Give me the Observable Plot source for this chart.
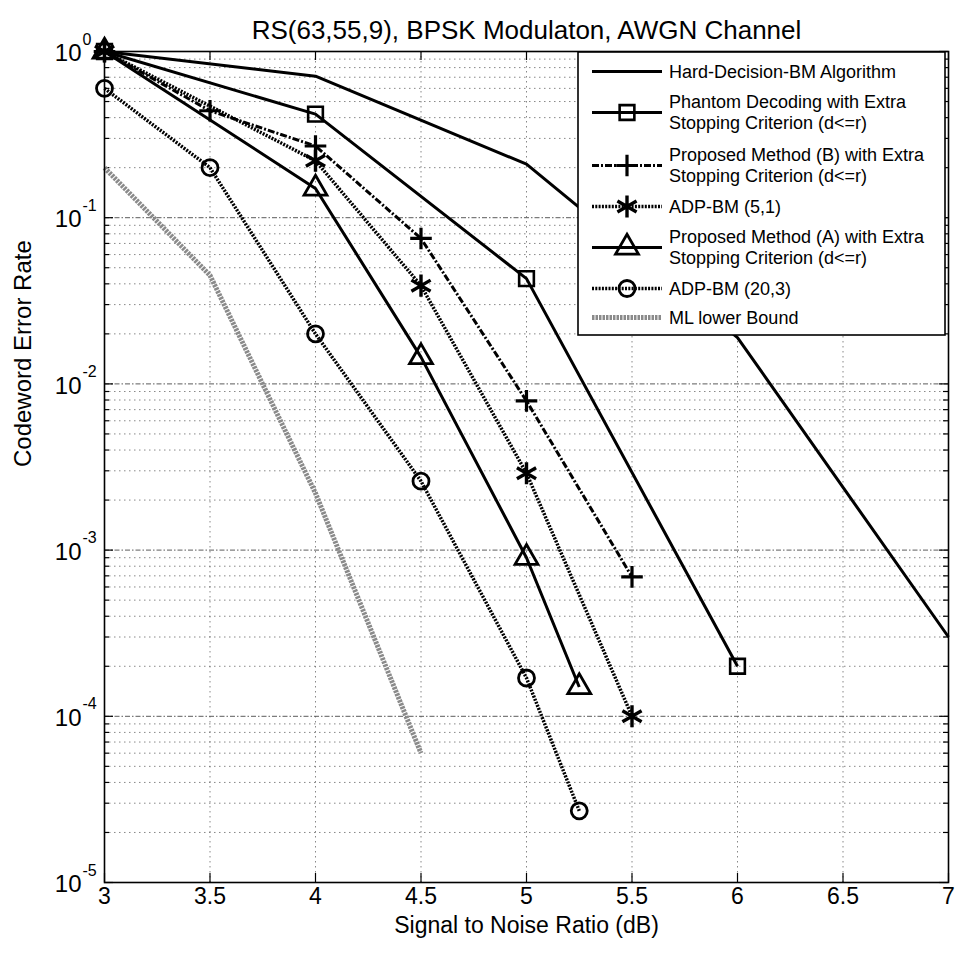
<!DOCTYPE html>
<html><head><meta charset="utf-8">
<script src="https://cdn.jsdelivr.net/npm/d3@7"></script>
<script src="https://cdn.jsdelivr.net/npm/@observablehq/plot@0.6"></script>
<style>
body{margin:0;background:#fff;}
#chart{width:959px;height:956px;}
</style></head><body><div id="chart"></div>
<script>
// ---------- data ----------
const title = "RS(63,55,9), BPSK Modulaton, AWGN Channel";
const xLabel = "Signal to Noise Ratio (dB)";
const yLabel = "Codeword Error Rate";
const xTicks = [3, 3.5, 4, 4.5, 5, 5.5, 6, 6.5, 7];
const yExponents = [0, -1, -2, -3, -4, -5];

const seriesNames = [
  "Hard-Decision-BM Algorithm",
  "Phantom Decoding with Extra|Stopping Criterion (d<=r)",
  "Proposed Method (B) with Extra|Stopping Criterion (d<=r)",
  "ADP-BM (5,1)",
  "Proposed Method (A) with Extra|Stopping Criterion (d<=r)",
  "ADP-BM (20,3)",
  "ML lower Bound"
];

const hardSnr = [3, 4, 5, 6, 7];
const hardCer = [1, 0.71, 0.21, 0.019, 3.0e-4];
const phantomSnr = [3, 4, 5, 6];
const phantomCer = [1, 0.42, 0.043, 2.0e-4];
const propBSnr = [3, 3.5, 4, 4.5, 5, 5.5];
const propBCer = [1, 0.44, 0.27, 0.075, 0.0079, 6.9e-4];
const adp51Snr = [3, 4, 4.5, 5, 5.5];
const adp51Cer = [1, 0.22, 0.039, 0.0029, 1.0e-4];
const propASnr = [3, 4, 4.5, 5, 5.25];
const propACer = [1, 0.15, 0.0145, 9.0e-4, 1.5e-4];
const adp203Snr = [3, 3.5, 4, 4.5, 5, 5.25];
const adp203Cer = [0.6, 0.2, 0.02, 0.0026, 1.7e-4, 2.7e-5];
const mlSnr = [3, 3.5, 4, 4.5];
const mlCer = [0.2, 0.045, 0.0022, 6.0e-5];

// ---------- styles (kept separate from data) ----------
const styles = [
  {stroke: "#000", width: 3, dash: null, symbol: null, r: 0, sw: 0},
  {stroke: "#000", width: 3, dash: null, symbol: "square", r: 8.3, sw: 2.6},
  {stroke: "#000", width: 3, dash: "7,2,2,2", symbol: "plus", r: 7, sw: 3.2},
  {stroke: "#000", width: 3.5, dash: "2,1.3", symbol: "asterisk", r: 10.5, sw: 3.4},
  {stroke: "#000", width: 3, dash: null, symbol: "triangle", r: 8.5, sw: 2.8},
  {stroke: "#000", width: 3.5, dash: "2,1.3", symbol: "circle", r: 8, sw: 2.8},
  {stroke: "#8a8a8a", width: 5, dash: "2.5,1", symbol: null, r: 0, sw: 0}
];

const seriesX = [hardSnr, phantomSnr, propBSnr, adp51Snr, propASnr, adp203Snr, mlSnr];
const seriesY = [hardCer, phantomCer, propBCer, adp51Cer, propACer, adp203Cer, mlCer];
const tables = seriesX.map((xs, i) => xs.map((x, j) => ({series: seriesNames[i], snr: x, cer: seriesY[i][j]})));

const yMajor = yExponents.map(e => Math.pow(10, e));
const yMinor = [];
for (const e of yExponents.slice(1)) for (let k = 2; k <= 9; k++) yMinor.push(k * Math.pow(10, e));

const W = 959, H = 956, mT = 51, mB = 74, mL = 104, mR = 11;
const iw = W - mL - mR, ih = H - mT - mB;
const font = "Liberation Sans, Arial, Helvetica, sans-serif";

const marks = [];
// grid
marks.push(Plot.ruleY(yMinor, {stroke: "#555", strokeWidth: 1, strokeDasharray: "1.5,3.5", strokeOpacity: 0.7}));
marks.push(Plot.ruleY(yMajor.slice(1, -1), {stroke: "#333", strokeWidth: 1, strokeDasharray: "5,2,1.5,2", strokeOpacity: 0.8}));
marks.push(Plot.ruleX(xTicks.slice(1, -1), {stroke: "#555", strokeWidth: 1, strokeDasharray: "1.5,3.5", strokeOpacity: 0.7}));
// ticks (inward) left/right/bottom/top
marks.push(Plot.ruleY(yMajor, {insetRight: iw - 9, stroke: "#000", strokeWidth: 1.2}));
marks.push(Plot.ruleY(yMajor, {insetLeft: iw - 9, stroke: "#000", strokeWidth: 1.2}));
marks.push(Plot.ruleY(yMinor, {insetRight: iw - 5, stroke: "#000", strokeWidth: 1.2}));
marks.push(Plot.ruleY(yMinor, {insetLeft: iw - 5, stroke: "#000", strokeWidth: 1.2}));
marks.push(Plot.ruleX(xTicks, {insetTop: ih - 9, stroke: "#000", strokeWidth: 1.2}));
marks.push(Plot.ruleX(xTicks, {insetBottom: ih - 9, stroke: "#000", strokeWidth: 1.2}));
// series
tables.forEach((t, i) => {
  const s = styles[i];
  marks.push(Plot.line(t, {x: "snr", y: "cer", stroke: s.stroke, strokeWidth: s.width, strokeDasharray: s.dash, strokeLinejoin: "miter", strokeLinecap: "butt"}));
});
tables.forEach((t, i) => {
  const s = styles[i];
  if (s.symbol) marks.push(Plot.dot(t, {x: "snr", y: "cer", symbol: () => s.symbol, r: s.r, stroke: "#000", strokeWidth: s.sw, fill: "none"}));
});
marks.push(Plot.frame({stroke: "#000", strokeWidth: 1.6}));
// tick labels
marks.push(Plot.text(xTicks, {x: d => d, frameAnchor: "bottom", dy: 21, text: d => String(d), fontSize: 23, fontFamily: font, fill: "#000"}));
marks.push(Plot.text(yMajor, {y: d => d, frameAnchor: "left", dx: -23, dy: 2, text: () => "10", textAnchor: "end", fontSize: 24, fontFamily: font, fill: "#000"}));
marks.push(Plot.text(yExponents, {y: e => Math.pow(10, e), frameAnchor: "left", dx: -22, dy: -12, text: e => String(e), textAnchor: "start", fontSize: 16, fontFamily: font, fill: "#000"}));
// titles
marks.push(Plot.text([title], {frameAnchor: "top", dy: -31, fontSize: 26, fontFamily: font, fill: "#000"}));
marks.push(Plot.text([xLabel], {frameAnchor: "bottom", dy: 50, fontSize: 23, fontFamily: font, fill: "#000"}));
marks.push(Plot.text([yLabel], {frameAnchor: "left", dx: -81, rotate: -90, fontSize: 24, fontFamily: font, fill: "#000"}));

const chart = Plot.plot({
  width: W, height: H,
  marginTop: mT, marginBottom: mB, marginLeft: mL, marginRight: mR,
  x: {domain: [3, 7], axis: null},
  y: {type: "log", domain: [1e-5, 1], axis: null},
  style: {background: "#fff", fontFamily: font},
  marks
});
document.getElementById("chart").appendChild(chart);

// ---------- legend ----------
const svg = d3.select(chart);
const lgX0 = 578, lgX1 = 945, lgY0 = 52;
const g = svg.append("g").attr("text-anchor", "start");
const rows = [];
let yy = lgY0 + 5;
seriesNames.forEach((name, i) => {
  const lines = name.split("|");
  const h = lines.length === 1 ? 29 : 53;
  rows.push({lines, cy: yy + h / 2, i});
  yy += h;
});
const lgY1 = yy + 3;
g.append("rect").attr("x", lgX0).attr("y", lgY0).attr("width", lgX1 - lgX0).attr("height", lgY1 - lgY0)
  .attr("fill", "#fff").attr("stroke", "#000").attr("stroke-width", 1.6);
const symMap = {square: d3.symbolSquare, plus: d3.symbolPlus, asterisk: d3.symbolAsterisk, triangle: d3.symbolTriangle, circle: d3.symbolCircle};
rows.forEach(({lines, cy, i}) => {
  const s = styles[i];
  g.append("line").attr("x1", 592).attr("x2", 662).attr("y1", cy).attr("y2", cy)
    .attr("stroke", s.stroke).attr("stroke-width", s.width).attr("stroke-dasharray", s.dash);
  if (s.symbol) {
    g.append("path").attr("transform", `translate(627,${cy})`)
      .attr("d", d3.symbol(symMap[s.symbol], Math.PI * s.r * s.r)())
      .attr("fill", "none").attr("stroke", "#000").attr("stroke-width", s.sw);
  }
  lines.forEach((ln, k) => {
    const off = lines.length === 1 ? 0 : (k === 0 ? -10.5 : 10.5);
    g.append("text").attr("x", 669).attr("y", cy + off).attr("dy", "0.35em").attr("text-anchor", "start")
      .attr("font-family", font).attr("font-size", 18).attr("fill", "#000").text(ln);
  });
});
</script>
</body></html>
